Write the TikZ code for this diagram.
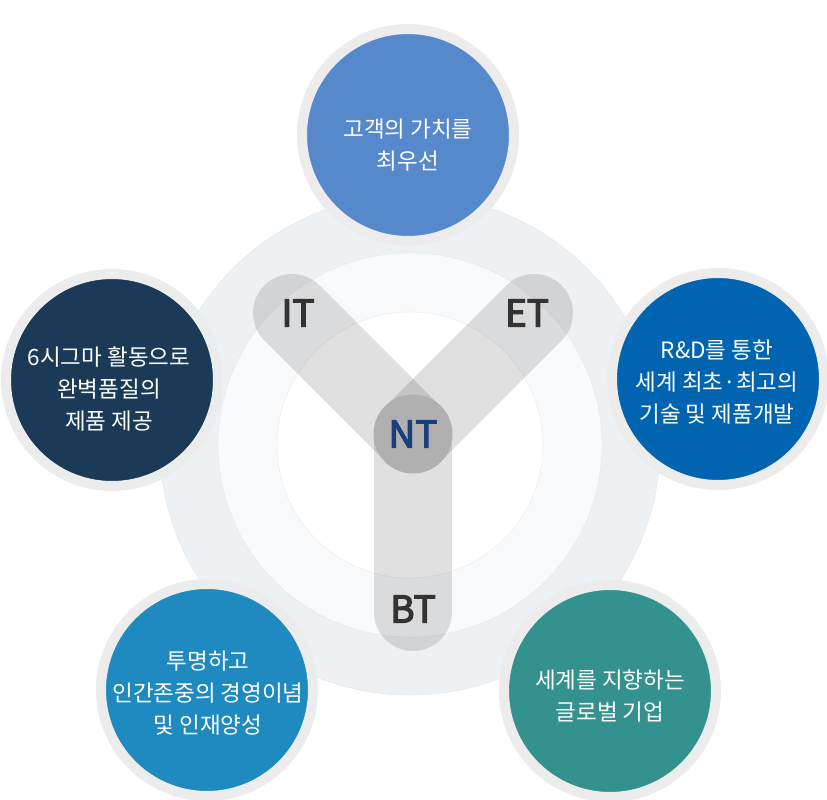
\documentclass[tikz,border=0pt]{standalone}
\usepackage{fontspec}
\setmainfont{Noto Sans CJK KR}
\newfontfamily\techfont[FakeBold=3.5]{Noto Sans CJK KR}
\usepackage{tikz}
\definecolor{outerbg}{HTML}{EEF1F4}
\definecolor{outerline}{HTML}{E0E4E9}
\definecolor{middlebg}{HTML}{F9FAFB}
\definecolor{middleline}{HTML}{E4E7EB}
\definecolor{innerline}{HTML}{E8EAED}
\definecolor{ringgray}{HTML}{ECECEC}
\definecolor{custblue}{HTML}{5689CC}
\definecolor{qualnavy}{HTML}{1B3A57}
\definecolor{rndblue}{HTML}{0064B1}
\definecolor{peopleblue}{HTML}{1E8ABF}
\definecolor{globalteal}{HTML}{33928E}
\definecolor{ntgray}{HTML}{B0B0B0}
\definecolor{techtext}{HTML}{333333}
\definecolor{ntnavy}{HTML}{1B3F7B}

\begin{document}
\begin{tikzpicture}[x=1pt,y=-1pt,
	goal/.style={circle, draw=ringgray, line width=10pt, minimum size=212pt, inner sep=0pt},
	goaltext/.style={text=white, align=center, font=\fontsize{22.5}{32}\selectfont},
	arm/.style={line width=78pt, line cap=round, black, opacity=0.12},
	tech/.style={text=techtext, font=\fontsize{37}{37}\selectfont\techfont}]
	\useasboundingbox (0,0) rectangle (827,800);
	% rings in the middle
	\draw[fill=outerbg, draw=outerline] (410,445) circle (250pt);
	\draw[fill=middlebg, draw=middleline] (410,445) circle (192pt);
	\draw[fill=white, draw=innerline] (410,445) circle (133pt);
	% the Y
	\coordinate (nt) at (413,434);
	\coordinate (it) at (292,313);
	\coordinate (et) at (534,313);
	\coordinate (bt) at (413,612);
	\draw[arm] (nt) -- (it);
	\draw[arm] (nt) -- (et);
	\draw[arm] (nt) -- (bt);
	\node[circle, fill=ntgray, minimum size=79pt, inner sep=0pt] (ntdot) at (nt) {};
	\node[tech, text=ntnavy] at (ntdot) {NT};
	\node[tech] (itlabel) at (298,313) {IT};
	\node[tech] (etlabel) at (527,313) {ET};
	\node[tech] (btlabel) at (413,609) {BT};
	% the five goals
	\node[goal, fill=custblue] (cust) at (408,135) {};
	\node[goal, fill=qualnavy] (quality) at (112,380) {};
	\node[goal, fill=rndblue] (rnd) at (718,379) {};
	\node[goal, fill=peopleblue] (people) at (207,690) {};
	\node[goal, fill=globalteal] (global) at (610,691) {};
	\node[goaltext] (custtext) at (408,145) {고객의 가치를\\최우선};
	\node[goaltext] (qualitytext) at (109,389) {6시그마 활동으로\\완벽품질의\\제품 제공};
	\node[goaltext] (rndtext) at (717,382) {R\&D를 통한\\세계 최초·최고의\\기술 및 제품개발};
	\node[goaltext] (peopletext) at (208,693) {투명하고\\인간존중의 경영이념\\및 인재양성};
	\node[goaltext] (globaltext) at (610,696) {세계를 지향하는\\글로벌 기업};
\end{tikzpicture}
\end{document}
